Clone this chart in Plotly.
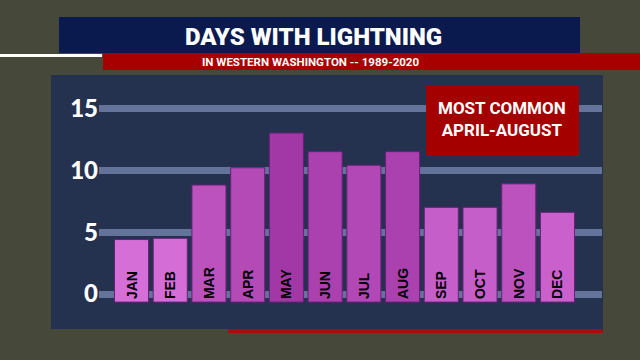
import plotly.graph_objects as go

months = ["JAN", "FEB", "MAR", "APR", "MAY", "JUN", "JUL", "AUG", "SEP", "OCT", "NOV", "DEC"]
days = [4.4, 4.5, 8.8, 10.2, 13.0, 11.5, 10.4, 11.5, 7.0, 7.0, 8.9, 6.6]
y_ticks = [0, 5, 10, 15]
title = "DAYS WITH LIGHTNING"
subtitle = "IN WESTERN WASHINGTON -- 1989-2020"
callout = ["MOST COMMON", "APRIL-AUGUST"]

W, H = 640, 360
ML, MR, MT, MB = 99, 38, 100, 50
PW, PH = W - ML - MR, H - MT - MB


def px(x):
    return (x - ML) / PW


def py(y):
    return (H - MB - y) / PH


NARROW = "Roboto, sans-serif"

fig = go.Figure()
fig.add_trace(go.Bar(
    x=list(range(len(months))),
    y=[d + 0.65 for d in days],
    base=-0.65,
    width=0.88,
    marker=dict(color=days, colorscale=[[0, "#d66ed8"], [1, "#a238a6"]],
                cmin=4.4, cmax=13.0,
                line=dict(color="#6a1f7a", width=1)),
    text=months,
    textposition="inside",
    insidetextanchor="start",
    textangle=-90,
    textfont=dict(family="Liberation Sans, Arial, sans-serif", size=14, color="black", weight="bold"),
    hoverinfo="skip",
))

shapes = [
    dict(type="rect", xref="paper", yref="paper", x0=px(51), x1=px(603), y0=py(329), y1=py(75),
         fillcolor="#24314f", line=dict(width=0), layer="below"),
    dict(type="rect", xref="paper", yref="paper", x0=px(228), x1=px(603), y0=py(333), y1=py(329),
         fillcolor="#a80d0d", line=dict(width=0), layer="below"),
    dict(type="rect", xref="paper", yref="paper", x0=px(59), x1=px(580), y0=py(53), y1=py(17),
         fillcolor="#0b1a4e", line=dict(width=0), layer="above"),
    dict(type="rect", xref="paper", yref="paper", x0=px(103), x1=px(640), y0=py(70), y1=py(53),
         fillcolor="#a80000", line=dict(width=0), layer="above"),
    dict(type="rect", xref="paper", yref="paper", x0=px(0), x1=px(102), y0=py(57), y1=py(54),
         fillcolor="white", line=dict(width=0), layer="above"),
    dict(type="rect", xref="paper", yref="paper", x0=px(426), x1=px(579), y0=py(156), y1=py(86),
         fillcolor="#a50000", line=dict(width=0), layer="above"),
]

annotations = [
    dict(text=title, x=px(313), y=py(37), xref="paper", yref="paper", showarrow=False,
         xanchor="center", yanchor="middle",
         font=dict(family=NARROW, size=24, color="white", weight=900)),
    dict(text=subtitle, x=px(310), y=py(62), xref="paper", yref="paper", showarrow=False,
         xanchor="center", yanchor="middle",
         font=dict(family=NARROW, size=11.5, color="white", weight="bold")),
    dict(text="<br>".join(callout), x=px(502), y=py(119), xref="paper", yref="paper", showarrow=False,
         xanchor="center", yanchor="middle",
         font=dict(family=NARROW, size=17, color="white", weight="bold")),
]

fig.update_layout(
    width=W, height=H,
    margin=dict(l=ML, r=MR, t=MT, b=MB),
    paper_bgcolor="#46483a",
    plot_bgcolor="rgba(0,0,0,0)",
    showlegend=False,
    shapes=shapes,
    annotations=annotations,
    xaxis=dict(range=[-0.84, 12.15], showgrid=False, zeroline=False, showticklabels=False,
               fixedrange=True),
    yaxis=dict(range=[-1.29, 15.67], tickvals=y_ticks, ticktext=[str(v) for v in y_ticks],
               showgrid=True, gridcolor="rgba(115,132,172,0.8)", gridwidth=7, zeroline=False,
               tickfont=dict(family="Lato, Open Sans, sans-serif", size=24, color="white", weight=900),
               ticks="", fixedrange=True),
    bargap=0.12,
)

fig.write_html("out.html")
